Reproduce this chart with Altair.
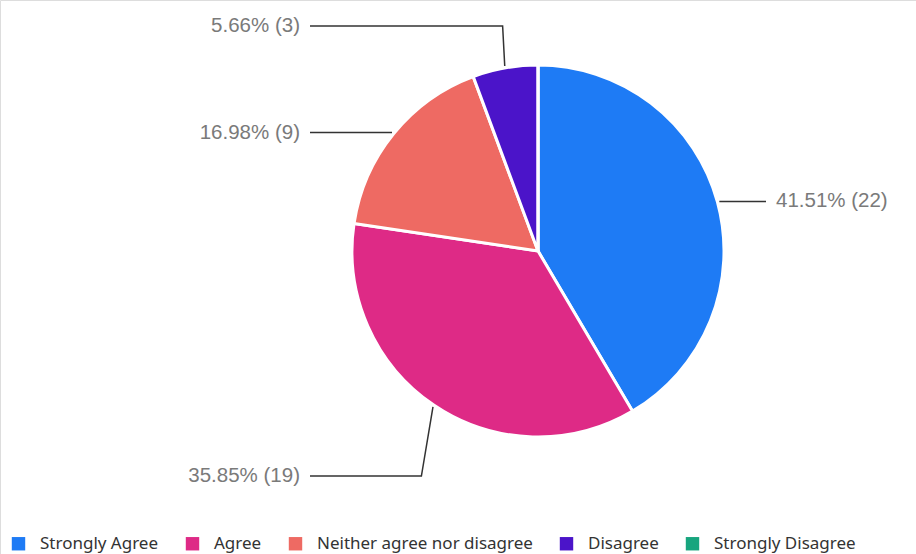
import math
import altair as alt
import pandas as pd

categories = ["Strongly Agree", "Agree", "Neither agree nor disagree", "Disagree", "Strongly Disagree"]
counts = [22, 19, 9, 3, 0]
colors = ["#1E7BF5", "#DE2A86", "#EE6A63", "#4B14C9", "#17A57E"]

W, H = 916, 554
CX, CY, R = 538, 251, 186
ROW = 225      # vertical distance of top/bottom label rows from centre
COL = 228      # horizontal distance of leader ends from centre

total = sum(counts)
df = pd.DataFrame({"cat": categories, "n": counts, "order": list(range(len(categories)))})

# leader lines and labels derived from the values
line_rows, text_rows = [], []
cum = 0
for i, (c, n) in enumerate(zip(categories, counts)):
    if n == 0:
        continue
    a = 2 * math.pi * (cum + n / 2) / total
    cum += n
    s, co = math.sin(a), -math.cos(a)
    p0 = (CX + (R + 2) * s, CY + (R + 2) * co)
    if abs(co) > 0.7:
        ey = CY + ROW * (1 if co > 0 else -1)
        dy = abs(ey - p0[1])
        el = (p0[0] + s * dy * 0.3, ey)
    else:
        el = p0
    side = 1 if s > 0 else -1
    end = (CX + side * COL, el[1])
    for k, p in enumerate([p0, el, end]):
        line_rows.append({"cat": c, "k": k, "x": p[0], "y": p[1]})
    pct = 100 * n / total
    text_rows.append({"cat": c, "x": CX + side * (COL + 10), "y": el[1],
                      "label": f"{pct:.2f}% ({n})", "side": "L" if side > 0 else "R"})

lines_df = pd.DataFrame(line_rows)
text_df = pd.DataFrame(text_rows)

xs = alt.Scale(domain=[0, W], range=[0, W], nice=False, zero=False)
ys = alt.Scale(domain=[H, 0], nice=False, zero=False)

pie = alt.Chart(df).mark_arc(outerRadius=R, stroke="white", strokeWidth=3).encode(
    theta=alt.Theta("n:Q", stack=True),
    order=alt.Order("order:Q"),
    color=alt.Color("cat:N", sort=categories,
                    scale=alt.Scale(domain=categories, range=colors),
                    legend=alt.Legend(title=None, orient="none", direction="horizontal",
                                      legendX=10, legendY=535, symbolType="square",
                                      symbolSize=180, symbolStrokeWidth=0,
                                      labelFontSize=17, labelColor="#333333",
                                      labelFont="Noto Sans", columnPadding=25,
                                      labelLimit=0, symbolOffset=0, labelOffset=13)),
    x=alt.value(CX), y=alt.value(CY),
)

leaders = alt.Chart(lines_df).mark_line(color="#333333", strokeWidth=1.5).encode(
    x=alt.X("x:Q", scale=xs, axis=None),
    y=alt.Y("y:Q", scale=ys, axis=None),
    detail="cat:N",
    order="k:Q",
)

text_l = alt.Chart(text_df[text_df.side == "L"]).mark_text(
    align="left", baseline="middle", fontSize=20.5, color="#7a7a7a", font="Liberation Sans"
).encode(x=alt.X("x:Q", scale=xs, axis=None), y=alt.Y("y:Q", scale=ys, axis=None), text="label:N")

text_r = alt.Chart(text_df[text_df.side == "R"]).mark_text(
    align="right", baseline="middle", fontSize=20.5, color="#7a7a7a", font="Liberation Sans"
).encode(x=alt.X("x:Q", scale=xs, axis=None), y=alt.Y("y:Q", scale=ys, axis=None), text="label:N")

chart = alt.layer(pie, leaders, text_l, text_r).properties(
    width=W, height=H, padding=0, autosize=alt.AutoSizeParams(type="none")
).configure_view(stroke=None, strokeWidth=0).configure(background="white")

chart.save("out.html", embed_options={"renderer": "svg", "actions": False})
